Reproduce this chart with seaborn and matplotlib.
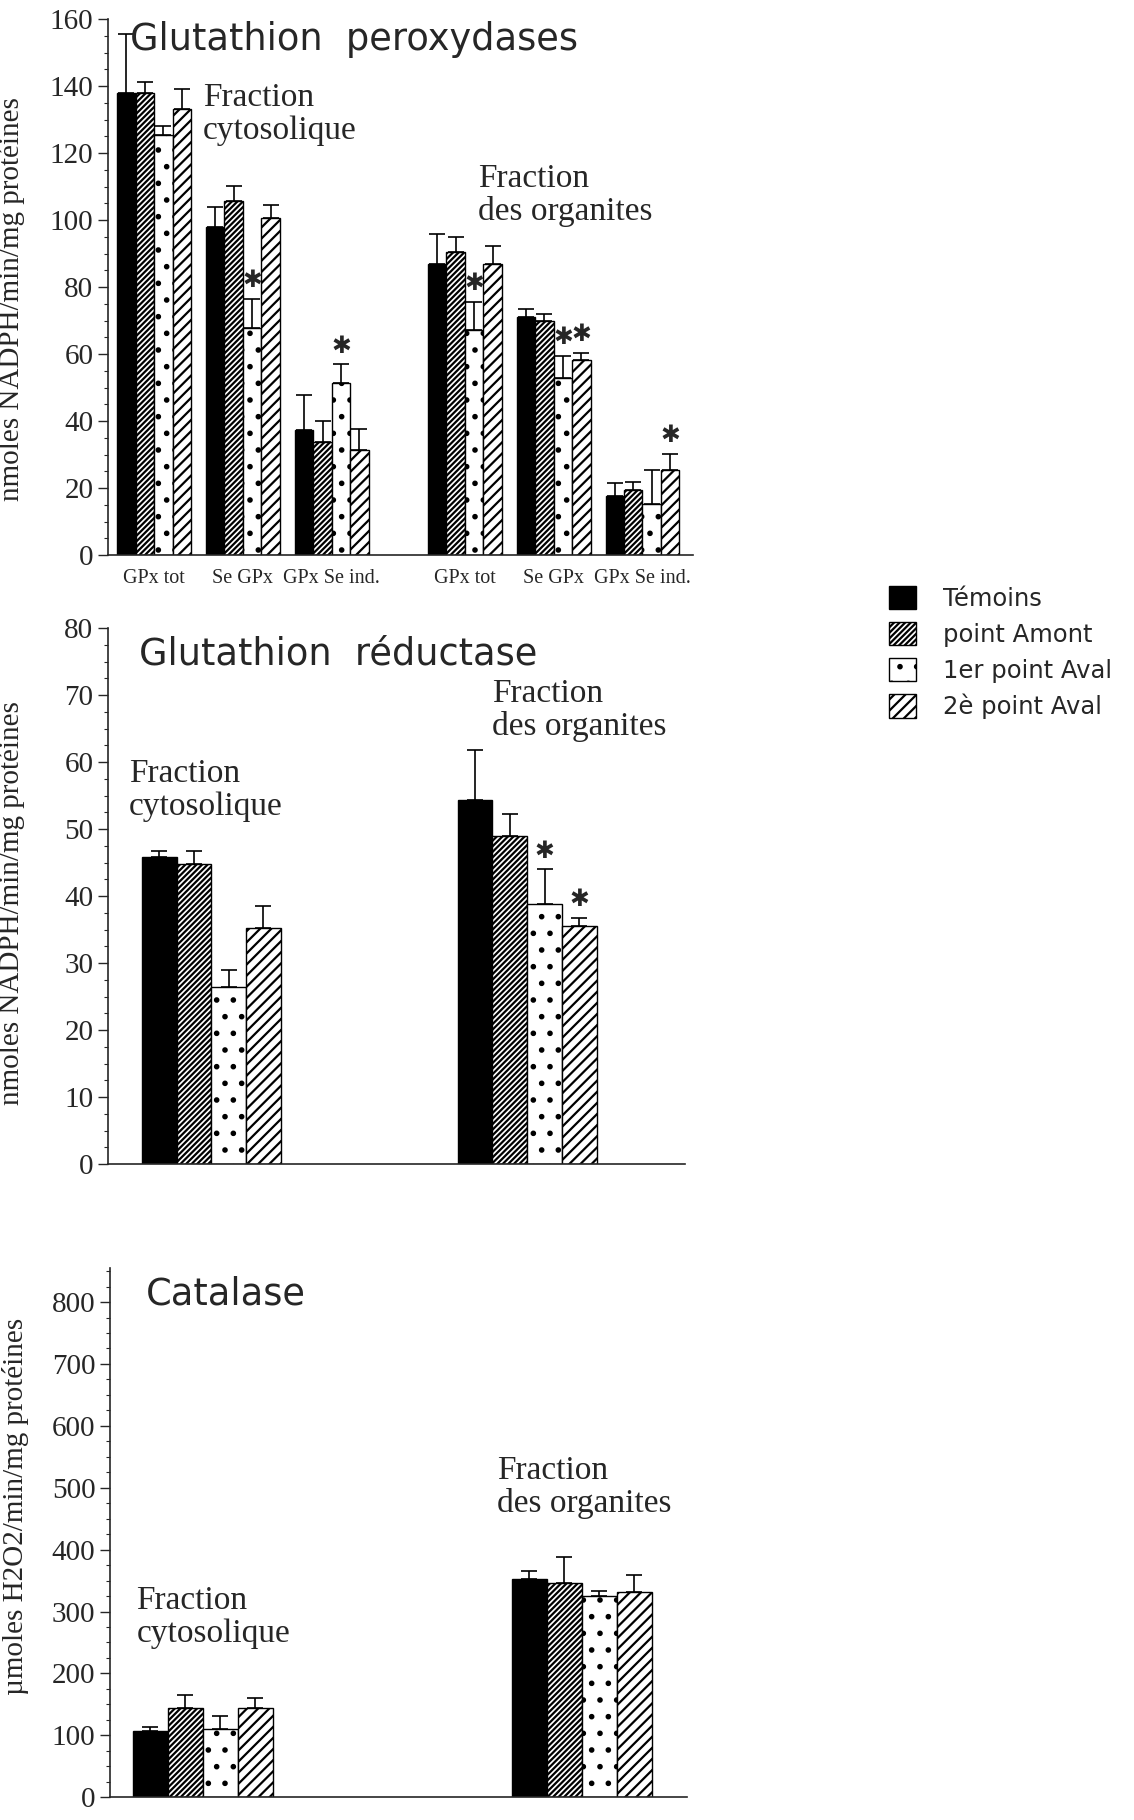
import numpy as np
import pandas as pd
import matplotlib
matplotlib.use("Agg")
import matplotlib.pyplot as plt
import matplotlib.patches as mpatches
from matplotlib.ticker import MultipleLocator
import seaborn as sns

sns.set_style("ticks")
plt.rcParams['font.family'] = ['Liberation Serif', 'DejaVu Sans']
plt.rcParams['hatch.linewidth'] = 1.6

# groupes (hue) et fractions
groupes = ['Témoins', 'point Amont', '1er point Aval', '2è point Aval']
fractions = ['Fraction\ncytosolique', 'Fraction\ndes organites']

# 1. Glutathion peroxydases (3 mesures x 2 fractions)
gpx_mesures = ['GPx tot', 'Se GPx', 'GPx Se ind.']
gpx_temoins = [138, 98, 37.4, 86.8, 71, 17.6]
gpx_amont = [138, 105.8, 33.9, 90.6, 69.8, 19.4]
gpx_aval1 = [125.5, 67.9, 51.3, 67.1, 52.8, 15.4]
gpx_aval2 = [133.3, 100.6, 31.4, 86.8, 58.2, 25.5]
gpx_err_temoins = [17.5, 6, 10.3, 9.2, 2.5, 4]
gpx_err_amont = [3.3, 4.5, 6, 4.3, 2.3, 2.3]
gpx_err_aval1 = [2.5, 8.5, 5.6, 8.4, 6.7, 9.9]
gpx_err_aval2 = [5.9, 3.8, 6.2, 5.5, 2.2, 4.8]
gpx_sig_aval1 = [0, 1, 1, 1, 1, 0]
gpx_sig_aval2 = [0, 0, 0, 0, 1, 1]

# 2. Glutathion reductase
gr_temoins = [45.9, 54.3]
gr_amont = [44.8, 49]
gr_aval1 = [26.5, 38.8]
gr_aval2 = [35.2, 35.5]
gr_err_temoins = [0.9, 7.5]
gr_err_amont = [2, 3.2]
gr_err_aval1 = [2.4, 5.2]
gr_err_aval2 = [3.3, 1.3]
gr_sig_aval1 = [0, 1]
gr_sig_aval2 = [0, 1]

# 3. Catalase
cat_temoins = [106.4, 351.9]
cat_amont = [144.8, 346.8]
cat_aval1 = [109.9, 325]
cat_aval2 = [144.8, 331.9]
cat_err_temoins = [6.6, 13]
cat_err_amont = [20, 41]
cat_err_aval1 = [20.6, 8.6]
cat_err_aval2 = [15.4, 27.5]

couleurs = ['black', 'white', 'white', 'white']
hachures = ['', '//////', '.', '///']


def tableau(x, valeurs):
    lignes = []
    for g, vals in zip(groupes, valeurs):
        for xi, v in zip(x, vals):
            lignes.append({'x': xi, 'groupe': g, 'valeur': v})
    return pd.DataFrame(lignes)


def trace(ax, df, erreurs, etoiles, width, native, decal):
    sns.barplot(data=df, x='x', y='valeur', hue='groupe', hue_order=groupes,
                palette=couleurs, native_scale=native, width=width, errorbar=None,
                edgecolor='black', linewidth=1, legend=False, ax=ax)
    for cont, h, err, sig in zip(ax.containers, hachures, erreurs, etoiles):
        barres = sorted(cont.patches, key=lambda p: p.get_x())
        xs = np.array([p.get_x() + p.get_width() / 2 for p in barres])
        ys = np.array([p.get_height() for p in barres])
        for p in barres:
            p.set_hatch(h)
            p.set_edgecolor('black')
        err = np.array(err)
        ax.errorbar(xs, ys, yerr=[np.zeros_like(err), err], fmt='none',
                    ecolor='black', elinewidth=1.2, capsize=6, capthick=1.2)
        if sig is not None:
            for xi, yi, e, s in zip(xs, ys, err, sig):
                if s:
                    ax.text(xi, yi + e + decal, '✱', ha='center', va='bottom',
                            fontsize=17, family='DejaVu Sans')


def habille(ax, ymax, major, minor, ylabel, lab_x, lab_y):
    sns.despine(ax=ax)
    ax.set_ylim(0, ymax)
    ax.yaxis.set_major_locator(MultipleLocator(major))
    ax.yaxis.set_minor_locator(MultipleLocator(minor))
    ax.tick_params(axis='y', which='major', labelsize=21, length=7, width=1)
    ax.tick_params(axis='y', which='minor', length=3, width=0.8)
    ax.set_ylabel(ylabel, fontsize=21)
    ax.yaxis.set_label_coords(lab_x, lab_y)
    ax.set_xlabel('')
    for s in ax.spines.values():
        s.set_linewidth(1.2)


fig = plt.figure(figsize=(11.34, 18.2), dpi=100)

# --- panneau 1 ---
ax1 = fig.add_axes([0.0952, 0.695, 0.516, 0.2945])
pos1 = [f * 3.5 + m for f in range(len(fractions)) for m in range(len(gpx_mesures))]
df1 = tableau(pos1, [gpx_temoins, gpx_amont, gpx_aval1, gpx_aval2])
trace(ax1, df1, [gpx_err_temoins, gpx_err_amont, gpx_err_aval1, gpx_err_aval2],
      [None, None, gpx_sig_aval1, gpx_sig_aval2], 0.83, True, 2.0)
ax1.set_xlim(-0.52, 6.07)
ax1.set_xticks(pos1)
ax1.set_xticklabels(gpx_mesures * 2, fontsize=14.5)
ax1.tick_params(axis='x', length=0, pad=10)
habille(ax1, 160, 20, 5, 'nmoles NADPH/min/mg protéines', -0.142, 0.478)
ax1.text(-0.27, 154, 'Glutathion  peroxydases', fontsize=26.5, family='DejaVu Sans', va='center')
ax1.text(0.55, 141, fractions[0], fontsize=24, va='top', linespacing=1.1)
ax1.text(3.65, 117, fractions[1], fontsize=24, va='top', linespacing=1.1)

# --- panneau 2 ---
ax2 = fig.add_axes([0.0952, 0.3604, 0.509, 0.2945])
df2 = tableau(fractions, [gr_temoins, gr_amont, gr_aval1, gr_aval2])
trace(ax2, df2, [gr_err_temoins, gr_err_amont, gr_err_aval1, gr_err_aval2],
      [None, None, gr_sig_aval1, gr_sig_aval2], 0.44, False, 1.0)
ax2.set_xlim(-0.327, 1.5)
ax2.set_xticks([])
habille(ax2, 80, 10, 2.5, 'nmoles NADPH/min/mg protéines', -0.144, 0.487)
ax2.text(-0.23, 76.2, 'Glutathion  réductase', fontsize=26.5, family='DejaVu Sans', va='center')
ax2.text(-0.26, 60.5, fractions[0], fontsize=24, va='top', linespacing=1.1)
ax2.text(0.89, 72.5, fractions[1], fontsize=24, va='top', linespacing=1.1)

# --- panneau 3 ---
ax3 = fig.add_axes([0.097, 0.0125, 0.509, 0.2908])
df3 = tableau(fractions, [cat_temoins, cat_amont, cat_aval1, cat_aval2])
trace(ax3, df3, [cat_err_temoins, cat_err_amont, cat_err_aval1, cat_err_aval2],
      [None] * 4, 0.37, False, 10)
ax3.set_xlim(-0.245, 1.278)
ax3.set_xticks([])
habille(ax3, 855, 100, 25, 'µmoles H2O2/min/mg protéines', -0.14, 0.549)
ax3.text(-0.15, 813, 'Catalase', fontsize=26.5, family='DejaVu Sans', va='center')
ax3.text(-0.175, 342, fractions[0], fontsize=24, va='top', linespacing=1.1)
ax3.text(0.776, 552, fractions[1], fontsize=24, va='top', linespacing=1.1)

# --- legende ---
poignees = [mpatches.Patch(facecolor=c, edgecolor='black', hatch=h, label=g)
            for c, h, g in zip(couleurs, hachures, groupes)]
fig.legend(handles=poignees, loc='upper left', bbox_to_anchor=(0.765, 0.69),
           frameon=False, prop={'family': 'DejaVu Sans', 'size': 17.5},
           handlelength=1.1, handleheight=1.1, handletextpad=1.1, labelspacing=0.45)

fig.savefig('out.png', dpi=100)
